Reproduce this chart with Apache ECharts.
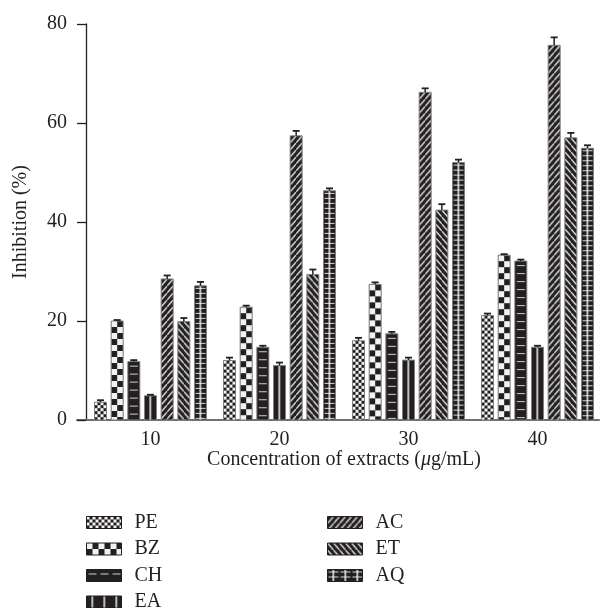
<!DOCTYPE html>
<html>
<head>
<meta charset="utf-8">
<script src="https://cdn.jsdelivr.net/npm/echarts@6/dist/echarts.min.js"></script>
<style>html,body{margin:0;padding:0;background:#fff;}#c{width:602px;height:608px;}</style>
</head>
<body>
<div id="c"></div>
<script>
// ---- data ----
const categories = ['10', '20', '30', '40'];
const seriesNames = ['PE', 'BZ', 'CH', 'EA', 'AC', 'ET', 'AQ'];
const PE = [3.6, 12.0, 16.0, 21.1];
const BZ = [20.0, 22.8, 27.4, 33.3];
const CH = [11.8, 14.7, 17.4, 32.1];
const EA = [4.9, 11.0, 12.1, 14.7];
const AC = [28.5, 57.4, 66.2, 75.7];
const ET = [19.9, 29.4, 42.4, 57.0];
const AQ = [27.1, 46.3, 52.0, 54.9];
const PE_err = [0.4, 0.6, 0.6, 0.4];
const BZ_err = [0.2, 0.3, 0.4, 0.2];
const CH_err = [0.3, 0.3, 0.4, 0.3];
const EA_err = [0.2, 0.6, 0.5, 0.3];
const AC_err = [0.7, 1.0, 0.8, 1.6];
const ET_err = [0.7, 1.0, 1.2, 1.0];
const AQ_err = [0.8, 0.5, 0.6, 0.6];
const yTicks = [0, 20, 40, 60, 80];

const values = [PE, BZ, CH, EA, AC, ET, AQ];
const errors = [PE_err, BZ_err, CH_err, EA_err, AC_err, ET_err, AQ_err];

// ---- style ----
const DARK = '#231f20';
const LIGHT = '#f2f2f2';
const FONT = "'Liberation Serif', 'DejaVu Serif', serif";
const FS = 20;
const BW = 12;          // bar width px
const PITCH = 16.67;    // bar pitch px

function tile(w, h, draw) {
  const c = document.createElement('canvas');
  c.width = w; c.height = h;
  const g = c.getContext('2d');
  g.fillStyle = DARK; g.fillRect(0, 0, w, h);
  g.fillStyle = LIGHT; g.strokeStyle = LIGHT;
  draw(g, w, h);
  return { image: c, repeat: 'repeat' };
}
const patterns = [
  tile(6, 6, g => { g.fillRect(0, 0, 3, 3); g.fillRect(3, 3, 3, 3); }),
  tile(12, 12, g => { g.fillRect(0, 0, 6, 6); g.fillRect(6, 6, 6, 6); }),
  tile(12, 8, g => { g.fillStyle = '#d0d0d0'; g.fillRect(2, 4, 8, 1); }),
  tile(12, 4, g => { g.fillRect(5, 0, 1.5, 4); }),
  tile(6, 7, (g, w, h) => { g.lineWidth = 1.3; g.beginPath(); g.moveTo(-w, 2 * h); g.lineTo(2 * w, -h); g.stroke(); }),
  tile(6, 7, (g, w, h) => { g.lineWidth = 1.3; g.beginPath(); g.moveTo(-w, -h); g.lineTo(2 * w, 2 * h); g.stroke(); }),
  tile(12, 5, g => { g.fillStyle = '#d8d8d8'; g.fillRect(1, 2, 10, 1); g.fillStyle = LIGHT; g.fillRect(5, 0, 1.5, 5); })
];

function makeRender(k) {
  return function (params, api) {
    const c = api.value(0), v = api.value(1), e = api.value(2);
    const p0 = api.coord([c, 0]);
    const p1 = api.coord([c, v]);
    const p2 = api.coord([c, v + e]);
    const cx = p0[0] + (k - 3) * PITCH;
    const left = cx - BW / 2;
    return {
      type: 'group',
      children: [
        { type: 'rect', x: left, y: p1[1], shape: { x: 0, y: 0, width: BW, height: p0[1] - p1[1] },
          style: { fill: patterns[k], stroke: '#808080', lineWidth: 1 } },
        { type: 'line', shape: { x1: cx, y1: p1[1], x2: cx, y2: p2[1] }, style: { stroke: DARK, lineWidth: 1.5 } },
        { type: 'line', shape: { x1: cx - 3.5, y1: p2[1], x2: cx + 3.5, y2: p2[1] }, style: { stroke: DARK, lineWidth: 1.8 } }
      ]
    };
  };
}

const series = seriesNames.map((name, k) => ({
  type: 'custom',
  name: name,
  xAxisIndex: 0,
  yAxisIndex: 0,
  itemStyle: { color: patterns[k], borderColor: '#555', borderWidth: 1 },
  encode: { x: 0, y: 1 },
  data: values[k].map((v, i) => [i, v, errors[k][i]]),
  renderItem: makeRender(k)
}));

const legendCommon = {
  orient: 'vertical',
  icon: 'rect',
  padding: 0,
  itemWidth: 35,
  itemHeight: 12,
  itemGap: 6.5,
  selectedMode: false,
  itemStyle: { borderColor: DARK, borderWidth: 1 },
  textStyle: { fontFamily: FONT, fontSize: FS, color: DARK, padding: [0, 0, 0, 8] }
};

const chart = echarts.init(document.getElementById('c'), null, { renderer: 'canvas' });
chart.setOption({
  backgroundColor: '#ffffff',
  animation: false,
  grid: [
    { left: 86, right: -3, top: 24, bottom: 188 },
    { left: 77, right: 3, top: 24, bottom: 188 }
  ],
  xAxis: [
    {
      type: 'category', gridIndex: 0, data: categories,
      axisLine: { show: false }, axisTick: { show: false },
      axisLabel: { fontFamily: FONT, fontSize: FS, color: DARK, margin: 10 },
      name: 'Concentration of extracts ({i|μ}g/mL)',
      nameLocation: 'middle', nameGap: 30, nameMoveOverlap: false,
      nameTextStyle: { fontFamily: FONT, fontSize: FS, color: DARK,
        rich: { i: { fontFamily: FONT, fontSize: FS, fontStyle: 'italic', color: DARK } } }
    },
    {
      type: 'value', gridIndex: 1, min: 0, max: 1,
      axisLine: { show: true, lineStyle: { color: '#6f6f6f', width: 2 } },
      axisTick: { show: false }, axisLabel: { show: false }, splitLine: { show: false }
    }
  ],
  yAxis: [
    {
      type: 'value', gridIndex: 0, min: yTicks[0], max: yTicks[yTicks.length - 1], interval: 20,
      axisLine: { show: true, lineStyle: { color: DARK, width: 1.3 } },
      axisTick: { show: true, inside: false, length: 9, lineStyle: { color: DARK, width: 1.3 } },
      axisLabel: { fontFamily: FONT, fontSize: FS, color: DARK, margin: 19 },
      splitLine: { show: false },
      name: 'Inhibition (%)', nameLocation: 'middle', nameGap: 55, nameMoveOverlap: false,
      nameTextStyle: { fontFamily: FONT, fontSize: FS, color: DARK }
    },
    { type: 'value', gridIndex: 1, show: false, min: 0, max: 1 }
  ],
  legend: [
    Object.assign({}, legendCommon, { data: ['PE', 'BZ', 'CH'], left: 86, top: 512.5 }),
    Object.assign({}, legendCommon, { data: ['EA'], left: 86, top: 592 }),
    Object.assign({}, legendCommon, { data: ['AC', 'ET', 'AQ'], left: 327, top: 512.5 })
  ],
  series: series
});
</script>
</body>
</html>
